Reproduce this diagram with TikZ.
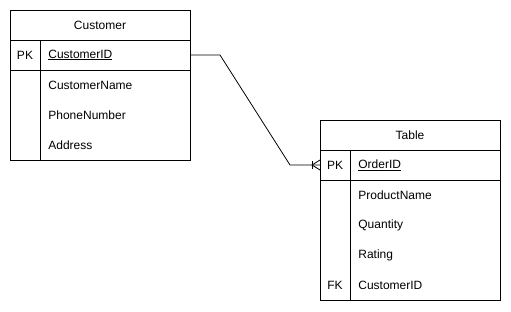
\documentclass[tikz,border=0pt]{standalone}
\usepackage{fontspec}
\setmainfont{Liberation Sans}
\usepackage{tikz}
\usetikzlibrary{positioning, calc}

\tikzset{
  box/.style={draw, line width=0.8pt, minimum width=180pt, inner sep=0pt, outer sep=0pt},
  field/.style={anchor=west, inner sep=0pt, font=\fontsize{12}{14}\selectfont},
  keytag/.style={inner sep=0pt, font=\fontsize{12}{14}\selectfont},
}

\begin{document}
\begin{tikzpicture}[x=1pt, y=-1pt, line width=0.8pt]
  \useasboundingbox (0,0) rectangle (511,311);

  % Customer entity
  \node[box, minimum height=30pt, font=\fontsize{12}{14}\selectfont] (custhead) at (100,25) {Customer};
  \node[box, minimum height=30pt, below=0pt of custhead] (custpk) {};
  \node[box, minimum height=90pt, below=0pt of custpk] (custbody) {};
  \draw ($(custpk.north west)+(30,0)$) -- ($(custbody.south west)+(30,0)$);
  \node[keytag] (custpktag) at (25,55) {PK};
  \node[field] (custid) at (48,55) {\underline{CustomerID}};
  \node[field] (custname) at (48,85) {CustomerName};
  \node[field] (custphone) at (48,115) {PhoneNumber};
  \node[field] (custaddr) at (48,145) {Address};

  % Order entity
  \node[box, minimum height=30pt, font=\fontsize{12}{14}\selectfont] (ordhead) at (410,135) {Table};
  \node[box, minimum height=30pt, below=0pt of ordhead] (ordpk) {};
  \node[box, minimum height=120pt, below=0pt of ordpk] (ordbody) {};
  \draw ($(ordpk.north west)+(30,0)$) -- ($(ordbody.south west)+(30,0)$);
  \node[keytag] (ordpktag) at (335,165) {PK};
  \node[field] (ordid) at (358,165) {\underline{OrderID}};
  \node[field] (ordprod) at (358,195) {ProductName};
  \node[field] (ordqty) at (358,225) {Quantity};
  \node[field] (ordrate) at (358,255) {Rating};
  \node[keytag] (ordfktag) at (335,285) {FK};
  \node[field] (ordcust) at (358,285) {CustomerID};

  % one-to-many link
  \coordinate (bend1) at ($(custpk.east)+(30,0)$);
  \coordinate (bend2) at ($(ordpk.west)+(-30,0)$);
  \draw (custpk.east) -- (bend1) -- (bend2) -- (ordpk.west);
  \draw ($(ordpk.west)+(-8,-4)$) -- ($(ordpk.west)+(-8,4)$);
  \draw ($(ordpk.west)+(0,-5)$) -- ($(ordpk.west)+(-8,0)$) -- ($(ordpk.west)+(0,5)$);
\end{tikzpicture}
\end{document}
